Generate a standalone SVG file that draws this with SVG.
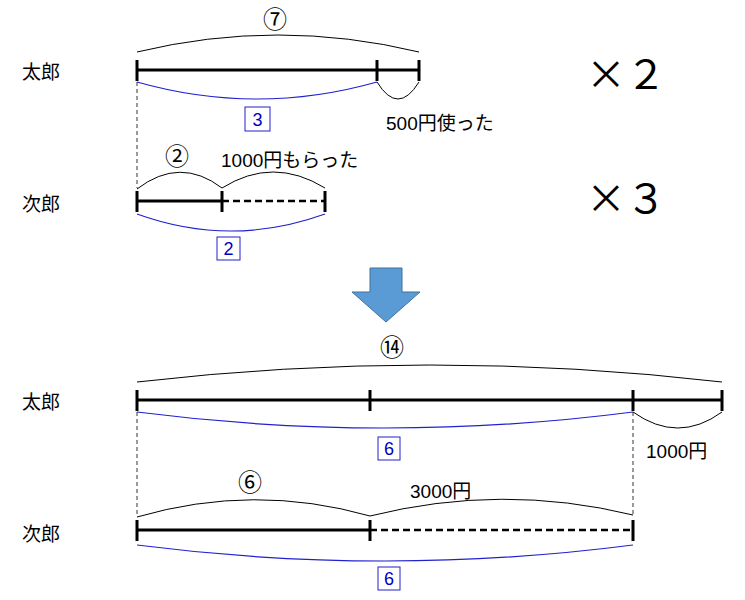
<svg xmlns="http://www.w3.org/2000/svg" width="745" height="600" viewBox="0 0 745 600">
<style>
text{font-family:"Liberation Sans","Noto Sans CJK JP",sans-serif;fill:#000}
.bar{stroke:#000;stroke-width:3;fill:none}
.dash{stroke:#000;stroke-width:2.5;stroke-dasharray:7 4;fill:none}
.br{stroke:#000;stroke-width:1;fill:none}
.bb{stroke:#2020d0;stroke-width:1.2;fill:none}
.vd{stroke:#000;stroke-width:0.8;stroke-dasharray:4 3;fill:none}
.box{fill:#fff;stroke:#2020d0;stroke-width:1}
.bt{fill:#0000c0;font-size:18px;text-anchor:middle}
.lb{font-size:19px}
.t{font-size:19px}
.c{font-size:24px;text-anchor:middle;font-family:"Noto Sans CJK JP",sans-serif}
.big{font-size:40px;font-family:"Noto Sans CJK JP",sans-serif}
</style>
<g id="labels">
<text class="lb" x="22" y="79">太郎</text>
<text class="lb" x="22" y="211">次郎</text>
<text class="lb" x="22" y="409">太郎</text>
<text class="lb" x="22" y="541">次郎</text>
<text class="big" x="586" y="89">×２</text>
<text class="big" x="586" y="213">×３</text>
</g>
<g id="taro1">
<path class="bar" d="M137 70H419M137 60V81M377 60V81M419 60V81"/>
<path class="br" d="M137 52Q278 18 419 52"/>
<text class="c" x="275" y="28">⑦</text>
<path class="bb" d="M137 82Q257 116 377 82"/>
<path class="br" d="M377 82Q398 116 419 82"/>
<rect class="box" x="245" y="107" width="25" height="24"/><text class="bt" x="257.5" y="126">3</text>
<text class="t" x="386" y="130">500円使った</text>
</g>
<g id="jiro1">
<path class="bar" d="M137 201H222M137 191V212M222 191V212M325 191V212"/>
<path class="dash" d="M222 201H325"/>
<path class="br" d="M137 189Q180 156 222 188Q273 156 325 188"/>
<text class="c" x="177" y="165">②</text>
<text class="t" x="221" y="167">1000円もらった</text>
<path class="bb" d="M137 214Q231 248 325 214"/>
<rect class="box" x="217" y="237" width="23" height="23"/><text class="bt" x="228.5" y="255">2</text>
</g>
<g id="arrow">
<path d="M370 268H402V292H420L386 322L352 292H370Z" fill="#5b9bd5" stroke="#41719c" stroke-width="1"/>
</g>
<g id="taro2">
<path class="bar" d="M137 400H722M137 390V411M370 390V411M633 390V411M722 390V411"/>
<path class="br" d="M137 382Q430 348 722 382"/>
<text class="c" x="392" y="356">⑭</text>
<path class="bb" d="M137 412Q385 444 633 412"/>
<path class="br" d="M633 412Q678 444 722 412"/>
<rect class="box" x="378" y="437" width="22" height="23"/><text class="bt" x="389" y="455">6</text>
<text class="t" x="646" y="458">1000円</text>
</g>
<g id="jiro2">
<path class="bar" d="M137 530H370M137 520V541M370 520V541M633 520V541"/>
<path class="dash" d="M370 530H633"/>
<path class="br" d="M137 517Q254 483 370 516Q502 483 633 515"/>
<text class="c" x="250" y="491">⑥</text>
<text class="t" x="410" y="498">3000円</text>
<path class="bb" d="M137 545Q385 577 633 545"/>
<rect class="box" x="378" y="567" width="22" height="23"/><text class="bt" x="389" y="585">6</text>
</g>
<g id="connectors">
<path class="vd" d="M137 82V188M137 412V515M633 412V515"/>
</g>
</svg>
